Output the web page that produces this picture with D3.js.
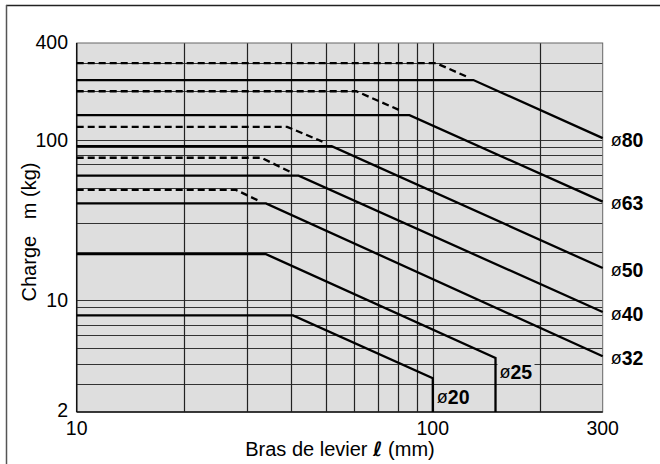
<!DOCTYPE html>
<html><head><meta charset="utf-8">
<script src="https://cdn.jsdelivr.net/npm/d3@7"></script>
<style>
html,body{margin:0;padding:0;background:#fff;}
svg{display:block;font-family:"Liberation Sans",Arial,sans-serif;}
</style></head>
<body>
<svg id="c" width="660" height="464"></svg>
<script>
// ---- data ----
const xGrid = [20,30,40,50,60,70,80,90,100,200];
const yGrid = [3,4,5,6,7,8,9,10,20,30,40,50,60,70,80,90,100,200,300];
const xTickLabels = [10,100,300];
const yTickLabels = [400,100,10,2];
// solid curves: [lever (mm), load (kg)]
const solid80 = [[10,235],[130,235],[300,102]];
const solid63 = [[10,142],[86,142],[300,41]];
const solid50 = [[10,91],[52,91],[300,15.8]];
const solid40 = [[10,59.5],[42,59.5],[300,8.4]];
const solid32 = [[10,40],[34,40],[300,4.45]];
const solid25 = [[10,19.3],[34,19.3],[150,4.35],[150,2]];
const solid20 = [[10,8],[40.5,8],[100,3.25],[100,2]];
// dashed curves
const dashed80 = [[10,300],[102,300],[125,246]];
const dashed63 = [[10,200],[61,200],[82,150]];
const dashed50 = [[10,120],[39,120],[49,97]];
const dashed40 = [[10,77],[33,77],[39.7,63]];
const dashed32 = [[10,48.5],[28,48.5],[32.4,41.6]];
// size labels: [size, load at right edge]
const rightLabels = [["80",102],["63",41],["50",15.8],["40",8.4],["32",4.45]];
// inner labels: [size, lever, load]
const innerLabels = [["25",150,3.55],["20",100,2.48]];

const svg = d3.select("#c");
const L=76.7, R=602.7, T=43, B=412;
const x = d3.scaleLog().domain([10,300]).range([L,R]);
const y = d3.scaleLog().domain([2,400]).range([B,T]);
const BG = "#dedede";

// outer frame (top and left)
svg.append("line").attr("x1",6).attr("x2",660).attr("y1",5.5).attr("y2",5.5).attr("stroke","#222").attr("stroke-width",1.6);
svg.append("line").attr("x1",6.5).attr("x2",6.5).attr("y1",5).attr("y2",464).attr("stroke","#555").attr("stroke-width",1.5);

// plot background
svg.append("rect").attr("x",L).attr("y",T).attr("width",R-L).attr("height",B-T).attr("fill",BG);

// grid
const g = svg.append("g");
g.selectAll("line.h").data(yGrid).join("line").attr("class","h")
  .attr("x1",L).attr("x2",R).attr("y1",d=>Math.round(y(d))+0.5).attr("y2",d=>Math.round(y(d))+0.5)
  .attr("stroke","#333").attr("stroke-width",1);
g.selectAll("line.v").data(xGrid).join("line").attr("class","v")
  .attr("y1",T).attr("y2",B).attr("x1",d=>Math.round(x(d))+0.5).attr("x2",d=>Math.round(x(d))+0.5)
  .attr("stroke","#222").attr("stroke-width",1.2);

// label background patches (hide grid lines under ø25 / ø20)
innerLabels.forEach(([s,lx,ly])=>{
  const cy = y(ly);
  svg.append("rect").attr("x",x(lx)+2).attr("y",cy-12)
    .attr("width",s==="25"?37:44).attr("height",s==="25"?21:24).attr("fill",BG);
});

// border
svg.append("rect").attr("x",L).attr("y",T).attr("width",R-L).attr("height",B-T)
  .attr("fill","none").attr("stroke","#666").attr("stroke-width",1);
svg.append("line").attr("x1",L).attr("x2",L).attr("y1",T).attr("y2",B).attr("stroke","#111").attr("stroke-width",1.5);
svg.append("line").attr("x1",L).attr("x2",R).attr("y1",B).attr("y2",B).attr("stroke","#111").attr("stroke-width",1.5);

const lineGen = d3.line().x(d=>x(d[0])).y(d=>y(d[1]));
const solids = [solid80,solid63,solid50,solid40,solid32,solid25,solid20];
const dashes = [dashed80,dashed63,dashed50,dashed40,dashed32];
svg.append("g").selectAll("path").data(solids).join("path")
  .attr("d",lineGen).attr("fill","none").attr("stroke","#000").attr("stroke-width",2.3);
svg.append("g").selectAll("path").data(dashes).join("path")
  .attr("d",lineGen).attr("fill","none").attr("stroke","#000").attr("stroke-width",2.3)
  .attr("stroke-dasharray","7,4");

// size labels
function sizeLabel(px,py,s){
  const t = svg.append("text").attr("x",px).attr("y",py).attr("dominant-baseline","central")
    .attr("font-size",19.5).attr("fill","#000");
  t.append("tspan").attr("font-weight","normal").attr("font-size",18).text("ø");
  t.append("tspan").attr("font-weight","bold").text(s);
}
rightLabels.forEach(([s,v])=>sizeLabel(R+8,y(v)+1.5,s));
innerLabels.forEach(([s,lx,ly])=>sizeLabel(x(lx)+4,y(ly),s));

// tick labels
svg.append("g").selectAll("text").data(yTickLabels).join("text")
  .attr("x",68).attr("y",d=>d===400?y(d)-1:(d===2?y(d)-2:y(d)))
  .attr("text-anchor","end").attr("dominant-baseline","central")
  .attr("font-size",19.5).text(d=>d);
svg.append("g").selectAll("text").data(xTickLabels).join("text")
  .attr("x",d=>x(d)).attr("y",428).attr("text-anchor","middle").attr("dominant-baseline","central")
  .attr("font-size",19.5).text(d=>d);

// axis titles
const xt = svg.append("text").attr("x",340).attr("y",449).attr("text-anchor","middle").attr("dominant-baseline","central")
  .attr("font-size",20).style("white-space","pre");
xt.append("tspan").text("Bras de levier ");
xt.append("tspan").attr("font-family","DejaVu Sans").attr("font-style","italic").attr("font-weight","bold").text("ℓ");
xt.append("tspan").text(" (mm)");
svg.append("text").attr("transform","translate(29,232) rotate(-90)").attr("text-anchor","middle")
  .attr("dominant-baseline","central").attr("font-size",20).style("white-space","pre").text("Charge   m (kg)");
</script>
</body></html>
